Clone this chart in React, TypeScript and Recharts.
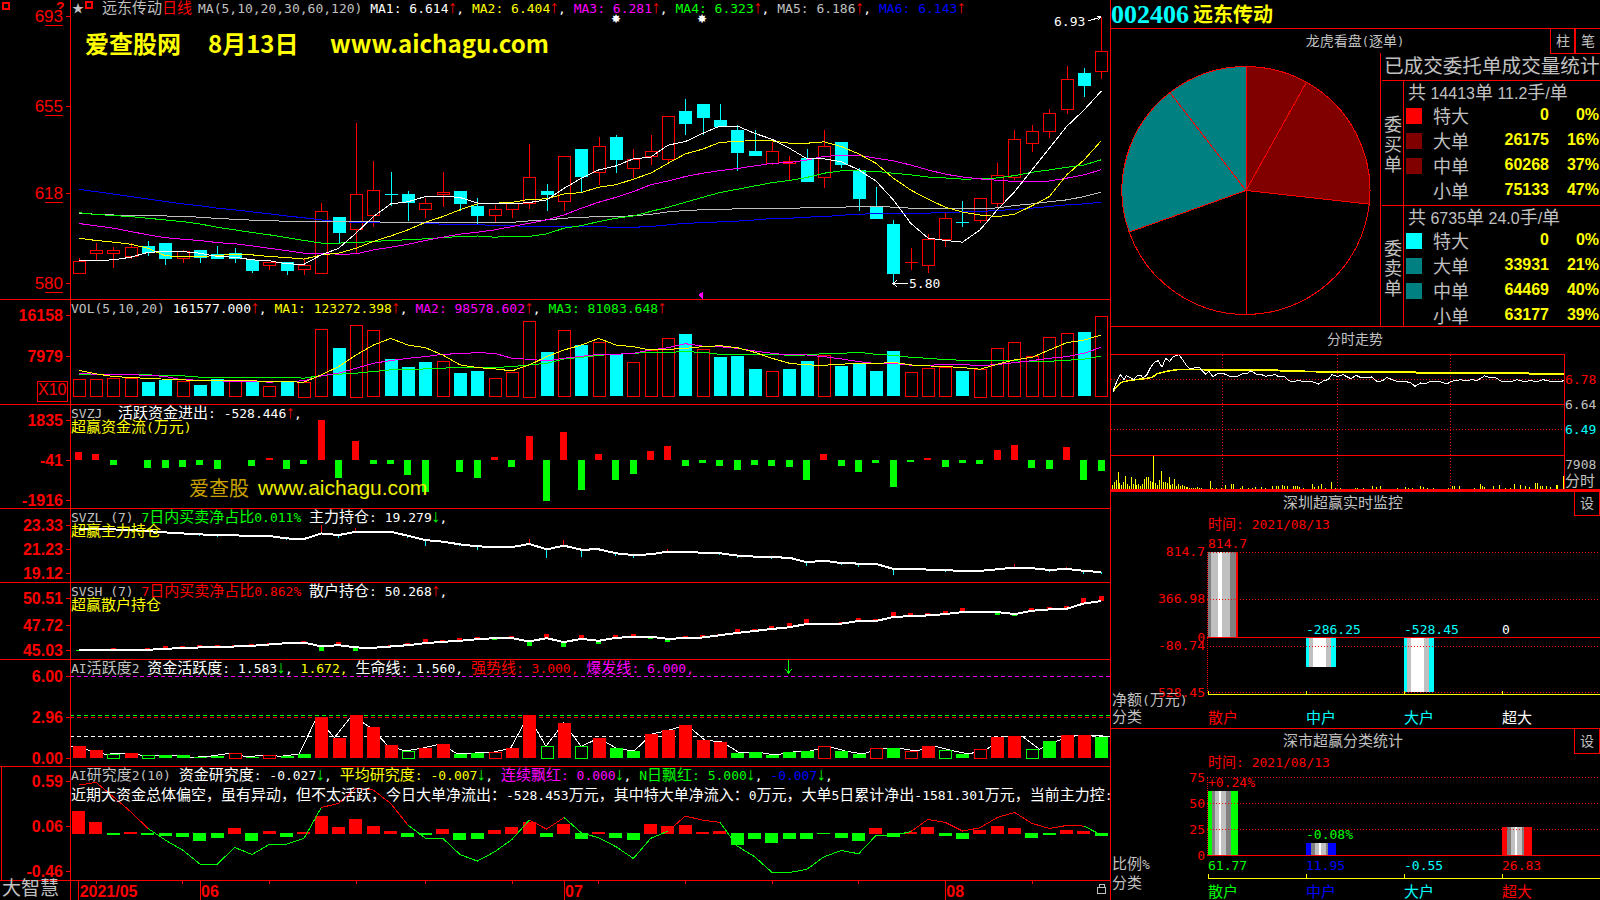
import React from "react";
import { ComposedChart, BarChart, PieChart, Pie, Cell, Bar, Line, XAxis, YAxis, ReferenceLine } from "recharts";

const RED = "#ff0000", CYAN = "#00ffff", GREEN = "#00ff00", YEL = "#ffff00", MAG = "#ff00ff", GRAY = "#c0c0c0", WHITE = "#ffffff", BLUE = "#0000ff";

// ---- daily candles
const candleOpen = [5.845,5.926,5.926,5.917,5.958,5.970,5.905,5.940,5.924,5.927,
  5.899,5.875,5.890,5.859,5.845,6.080,6.029,6.088,6.178,6.177,
  6.116,6.176,6.190,6.126,6.087,6.116,6.138,6.190,6.147,6.368,
  6.270,6.420,6.287,6.337,6.328,6.529,6.560,6.492,6.450,6.359,
  6.308,6.308,6.330,6.249,6.397,6.279,6.123,6.051,5.888,5.876,
  5.986,6.061,6.066,6.139,6.248,6.396,6.447,6.537,6.690,6.698];
const candleClose = [5.896,5.940,5.940,5.955,5.934,5.905,5.938,5.913,5.905,5.905,
  5.858,5.888,5.858,5.876,6.108,6.015,6.177,6.197,6.177,6.145,
  6.138,6.188,6.138,6.087,6.116,6.138,6.248,6.176,6.338,6.256,
  6.380,6.328,6.328,6.359,6.508,6.477,6.506,6.467,6.358,6.345,
  6.359,6.317,6.235,6.380,6.307,6.159,6.078,5.845,5.889,5.986,
  6.078,6.060,6.159,6.258,6.409,6.447,6.520,6.667,6.638,6.786];
const candleHigh = [5.906,5.970,5.955,5.970,5.979,5.970,5.941,5.940,5.958,5.950,
  5.899,5.888,5.890,5.906,6.139,6.080,6.478,6.317,6.270,6.190,
  6.160,6.270,6.190,6.160,6.132,6.146,6.389,6.220,6.338,6.368,
  6.420,6.429,6.368,6.429,6.508,6.581,6.560,6.560,6.469,6.450,
  6.400,6.340,6.369,6.450,6.397,6.287,6.208,6.068,5.950,6.008,
  6.099,6.149,6.159,6.308,6.450,6.469,6.537,6.720,6.710,6.930];
const candleLow = [5.845,5.900,5.866,5.903,5.917,5.875,5.886,5.886,5.905,5.886,
  5.844,5.856,5.835,5.835,5.837,5.970,5.927,6.036,6.125,6.064,
  6.078,6.122,6.108,6.046,6.061,6.078,6.115,6.108,6.108,6.187,
  6.217,6.269,6.246,6.299,6.308,6.426,6.426,6.467,6.277,6.337,
  6.299,6.238,6.235,6.205,6.286,6.108,6.078,5.800,5.856,5.845,
  5.955,6.036,6.054,6.118,6.238,6.356,6.416,6.518,6.587,6.667];
const ma1 = [5.896,5.896,5.899,5.910,5.931,5.934,5.934,5.927,5.913,5.910,
  5.899,5.895,5.882,5.880,5.920,5.948,6.012,6.082,6.136,6.145,
  6.167,6.169,6.163,6.140,6.136,6.136,6.142,6.153,6.202,6.245,
  6.280,6.297,6.327,6.334,6.385,6.400,6.435,6.466,6.466,6.435,
  6.410,6.372,6.328,6.327,6.315,6.280,6.233,6.153,6.054,5.991,
  5.981,5.974,6.026,6.111,6.188,6.280,6.372,6.464,6.534,6.614];
const ma2 = [5.991,5.981,5.974,5.965,5.948,5.916,5.913,5.913,5.917,5.923,
  5.920,5.913,5.909,5.902,5.920,5.927,5.948,5.977,6.000,6.026,
  6.058,6.082,6.111,6.136,6.139,6.142,6.156,6.157,6.178,6.184,
  6.207,6.217,6.241,6.266,6.308,6.348,6.368,6.397,6.400,6.406,
  6.403,6.393,6.393,6.399,6.379,6.348,6.308,6.245,6.195,6.156,
  6.122,6.101,6.089,6.082,6.092,6.128,6.167,6.259,6.322,6.404];
const ma3 = [6.053,6.043,6.033,6.019,6.005,5.993,5.986,5.981,5.972,5.967,
  5.958,5.948,5.938,5.927,5.926,5.923,5.924,5.941,5.952,5.965,
  5.981,5.995,6.008,6.016,6.026,6.040,6.054,6.068,6.089,6.118,
  6.143,6.164,6.188,6.217,6.233,6.252,6.266,6.277,6.286,6.297,
  6.308,6.311,6.322,6.337,6.342,6.341,6.330,6.318,6.301,6.280,
  6.262,6.250,6.242,6.236,6.231,6.231,6.233,6.245,6.259,6.281];
const ma4 = [6.099,6.091,6.087,6.082,6.075,6.068,6.061,6.051,6.037,6.026,
  6.015,6.005,5.993,5.981,5.970,5.970,5.972,5.977,5.981,5.984,
  5.988,5.993,5.998,6.000,5.995,5.998,5.998,6.009,6.033,6.044,
  6.061,6.075,6.085,6.104,6.122,6.143,6.164,6.184,6.198,6.212,
  6.226,6.235,6.248,6.266,6.276,6.276,6.274,6.266,6.259,6.250,
  6.246,6.241,6.242,6.246,6.256,6.270,6.280,6.291,6.301,6.323];
const ma5 = [6.097,6.092,6.089,6.088,6.087,6.085,6.082,6.080,6.074,6.071,
  6.067,6.064,6.063,6.063,6.063,6.061,6.061,6.060,6.058,6.058,
  6.058,6.058,6.058,6.058,6.058,6.058,6.064,6.068,6.075,6.080,
  6.081,6.084,6.085,6.092,6.102,6.108,6.111,6.113,6.115,6.115,
  6.118,6.118,6.119,6.121,6.122,6.125,6.126,6.122,6.118,6.118,
  6.118,6.116,6.116,6.119,6.129,6.136,6.145,6.153,6.167,6.186];
const ma6 = [6.198,6.188,6.178,6.167,6.157,6.146,6.136,6.128,6.118,6.111,
  6.102,6.094,6.085,6.077,6.068,6.061,6.058,6.057,6.057,6.057,
  6.054,6.050,6.048,6.047,6.046,6.043,6.041,6.040,6.040,6.040,
  6.039,6.037,6.037,6.040,6.047,6.054,6.056,6.060,6.063,6.068,
  6.074,6.075,6.080,6.082,6.088,6.092,6.095,6.097,6.097,6.097,
  6.099,6.102,6.104,6.108,6.113,6.118,6.125,6.132,6.136,6.143];

// ---- volume (x10)
const volume = [3458,3458,3658,3658,2926,3325,2993,2328,3458,2993,
  2993,2062,2993,2926,13433,9643,14431,13234,7515,5919,
  6916,7049,4722,5121,3658,4855,15229,8911,13234,10308,
  10840,8446,6850,9310,11638,12502,9443,7914,8113,5520,
  5054,5520,7116,8246,6118,6517,5121,9111,4855,5653,
  5852,5121,5586,9643,10840,8047,11837,12635,12901,16158];
const volumeSide = "rrrrccrccrcrcrrcrrcccrccrrrc".split("").concat("rcrcrrrcrcccrccrccccrrrcrrrrrrcr".split(""));
const volMa1 = [5254,4522,3990,3791,3591,3458,3325,3126,3126,3126,
  3126,2993,2926,2860,4323,5985,8313,10308,11638,10308,
  9776,8313,6318,5786,5520,5121,6318,7980,9310,10308,
  11638,10308,9975,9310,9443,9643,9975,10175,9776,8845,
  7648,6650,6318,6251,6451,6650,6584,6850,6318,6118,
  5985,5786,5453,6451,7315,7847,9310,10773,11305,12327];
const volMa2 = [4589,4456,4323,4323,4256,3990,3325,3259,3126,2993,
  2993,2860,2993,3126,4123,4655,5653,6650,7182,7648,
  7980,8446,8579,8778,8645,7648,7448,7116,7648,8047,
  8446,8446,8645,9310,9776,10574,10108,9975,9643,9111,
  8645,8313,8313,7980,7515,6983,6584,6650,6251,6251,
  6384,6384,6185,6384,6783,7182,7648,7980,8645,9858];
const volMa3 = [4456,4456,4323,4323,4323,4190,4123,3857,3857,3857,
  3857,3857,3857,3658,4190,4456,4655,4988,5320,5320,
  5520,5653,5852,5852,5786,5985,6318,6650,7515,7847,
  8246,8446,8645,8845,8845,8978,8845,8446,8446,8446,
  8446,8246,8313,8579,8645,8845,8446,8246,7847,7648,
  7382,7249,7249,7249,7116,7049,7049,7249,7448,8108];

// ---- capital flow
const capitalFlow = [372,279,-232,-31,-372,-372,-325,-232,-418,-31,
  -279,62,-418,-186,1835,-837,883,-186,-186,-697,
  -1534,-31,-558,-883,140,-325,1116,-1916,1302,-1441,
  279,-976,-651,418,651,-279,-140,-279,-465,-232,
  -279,-325,-930,279,-279,-558,-140,-1302,-93,93,
  -325,-140,-186,465,698,-372,-418,605,-930,-528];

// ---- holdings
const mainHold = [23.015,22.986,22.958,22.90,22.81,22.70,22.61,22.53,22.47,22.44,
  22.41,22.385,22.18,22.13,22.61,22.47,22.76,22.76,22.76,22.41,
  22.04,21.90,21.67,21.50,21.44,21.44,21.70,21.24,21.55,21.21,
  21.24,20.90,20.75,20.81,21.04,21.01,20.95,20.90,20.70,20.61,
  20.55,20.52,20.12,20.27,20.04,20.01,19.98,19.55,19.58,19.49,
  19.44,19.38,19.38,19.52,19.66,19.61,19.46,19.55,19.38,19.28];
const mainHoldDelta = [0,0,0,0,0,0,-.09,-.17,-.2,0,
  -.11,0,-.11,0,.74,-.23,.29,-.09,-.09,-.17,
  -.52,-.06,-.17,-.29,.06,-.09,.4,-.72,.49,-.63,
  .11,-.26,-.29,.11,.23,-.11,-.09,-.14,-.2,-.11,
  -.11,0,-.29,.09,-.11,-.26,0,-.49,-.14,0,
  -.2,-.09,-.14,.09,.29,-.09,-.14,.14,-.29,-.14];
const retailHold = [45.13,45.13,45.13,45.13,45.13,45.24,45.31,45.38,45.45,45.48,
  45.55,45.69,45.83,45.90,45.48,45.62,45.38,45.34,45.48,45.62,
  45.83,45.97,46.08,46.25,46.36,46.36,46.01,46.36,45.94,46.29,
  46.08,46.39,46.50,46.50,46.29,46.36,46.43,46.67,46.91,47.12,
  47.33,47.51,47.86,47.89,47.89,48.17,48.17,48.59,48.69,48.76,
  48.90,49.11,49.11,49.11,48.90,49.25,49.39,49.46,50.02,50.27];
const retailDelta = [-.14,-.14,.14,-.17,.14,.28,.17,.21,.17,.21,
  .21,.21,.17,.21,-.49,.31,-.42,-.1,.21,.28,
  .42,.21,.28,.28,-.17,.21,-.49,.42,-.49,.42,
  -.31,.28,.31,-.21,-.31,.21,.31,.17,.42,.21,
  .31,.42,.49,-.17,.21,.31,.21,.56,.28,.21,
  .31,.42,.14,-.28,-.17,.31,.31,.31,.56,.49];

// ---- activity
const activity = [.90,.61,.29,.39,.24,.22,.22,.07,.17,.36,
  .12,.22,.15,.32,2.99,1.51,3.13,2.28,.97,.53,
  .75,1.04,.32,.39,.44,.75,3.13,.87,2.58,.87,
  1.48,.73,.53,1.77,2.07,2.43,1.34,1.19,.39,.46,
  .24,.46,.53,.87,.53,.32,.73,.75,.53,.90,
  .58,.32,.66,1.56,1.63,.66,1.26,1.70,1.70,1.58];
const activityStyle = "RRgRgGGGGrGrGGRRRRRgRRGGrRRg".split("").concat("RgRGGRRRRRGGGGGrGGrGrRgGrRRgGRRG".split(""));

// ---- research
const researchBars = [.247,.118,-.035,0,-.035,-.043,-.059,-.106,-.071,.047,
  -.106,.012,-.059,0,.188,.059,.153,.071,.012,-.059,
  -.035,.035,-.094,-.082,.024,.059,.118,-.059,.094,-.082,
  0,-.071,-.094,.094,.071,.082,0,.012,-.153,-.082,
  -.129,-.082,-.082,-.020,-.071,-.106,.047,-.059,0,.059,
  -.047,-.082,.024,.071,.047,-.071,-.035,.024,.012,-.040];
const researchLine = [.553,.584,.416,.239,.043,-.094,-.212,-.376,-.376,-.180,
  -.263,-.145,-.141,-.074,.290,.337,.514,.494,.337,.082,
  -.071,-.071,-.263,-.341,-.231,-.086,.141,.035,.172,-.008,
  -.067,-.172,-.310,-.074,.012,.188,.141,.114,-.165,-.290,
  -.474,-.474,-.439,-.290,-.216,-.255,-.039,-.039,.005,.149,
  .114,.012,.051,.172,.231,.102,.043,.078,.071,-.035];

const days = candleOpen.map((_, i) => ({
  i,
  open: candleOpen[i], close: candleClose[i], high: candleHigh[i], low: candleLow[i],
  range: [candleLow[i], candleHigh[i]],
  ma1: ma1[i], ma2: ma2[i], ma3: ma3[i], ma4: ma4[i], ma5: ma5[i], ma6: ma6[i],
  vol: volume[i], side: volumeSide[i], v1: volMa1[i], v2: volMa2[i], v3: volMa3[i],
  flow: capitalFlow[i],
  hold: mainHold[i], holdWick: [Math.min(mainHold[i], mainHold[i] + mainHoldDelta[i]), Math.max(mainHold[i], mainHold[i] + mainHoldDelta[i])], holdUp: mainHoldDelta[i] > 0,
  retail: retailHold[i], retailDot: [Math.min(retailHold[i], retailHold[i] + retailDelta[i]), Math.max(retailHold[i], retailHold[i] + retailDelta[i])], retailUp: retailDelta[i] > 0,
  act: activity[i], actStyle: activityStyle[i],
  res: researchBars[i], resRange: researchBars[i] >= 0 ? [-0.022, researchBars[i]] : [-0.008, researchBars[i]],
  resRed: researchLine[i] >= 0 ? researchLine[i] : null,
  resGreen: researchLine[i] < 0 || (researchLine[i - 1] ?? 0) < 0 || (researchLine[i + 1] ?? 0) < 0 ? researchLine[i] : null,
}));

const priceTicks = [6.93, 6.55, 6.18, 5.80];
const volTicks = [16158, 7979];
const flowTicks = [1835, -41, -1916];
const holdTicks = [23.33, 21.23, 19.12];
const retailTicks = [50.51, 47.72, 45.03];
const actTicks = [6.0, 2.96, 0];
const resTicks = [0.59, 0.06, -0.46];
const monthTicks = [{ i: 0, t: "2021/05" }, { i: 7, t: "06" }, { i: 28, t: "07" }, { i: 50, t: "08" }];
const minorTicks = [1, 6, 11, 16, 20, 25, 30, 35, 40, 45, 55];

// ---- order-book pie
const pieSlices = [
  { name: "委买大单", value: 26175, color: "#800000" },
  { name: "委买中单", value: 60268, color: "#800000" },
  { name: "委买小单", value: 75133, color: "#000000" },
  { name: "委卖小单", value: 63177, color: "#000000" },
  { name: "委卖中单", value: 64469, color: "#008080" },
  { name: "委卖大单", value: 33931, color: "#008080" },
];

// ---- minute trend
const minuteTimes = [1,2,4,5,7,8,10,12,14,16,17,19,21,23,25,27,29,31,33,36,38,40,42,45,47,50,52,54,56,59,61,64,67,69,72,74,77,79,82,84,87,89,92,94,97,99,103,107,110,113,115,117,120,123,127,130,132,135,138,141,144,146,149,152,156,159,161,164,167,169,174,178,180,183,185,188,191,194,198,200,204,207,212,215,219,222,226,229,233,236,240];
const minutePrices = [6.705,6.738,6.786,6.805,6.776,6.801,6.79,6.776,6.799,6.799,6.786,6.805,6.848,6.878,6.886,6.849,6.90,6.882,6.911,6.921,6.892,6.859,6.838,6.848,6.844,6.809,6.824,6.792,6.809,6.815,6.805,6.792,6.795,6.809,6.811,6.828,6.809,6.809,6.795,6.801,6.805,6.792,6.795,6.77,6.766,6.772,6.763,6.763,6.751,6.772,6.776,6.805,6.795,6.805,6.782,6.801,6.79,6.786,6.792,6.766,6.77,6.79,6.776,6.766,6.766,6.757,6.738,6.757,6.753,6.766,6.766,6.751,6.766,6.772,6.776,6.77,6.776,6.772,6.799,6.79,6.786,6.766,6.766,6.776,6.766,6.77,6.766,6.776,6.766,6.763,6.77];
const avgTimes = [1,4,6,11,18,22,24,28,31,35,43,88,89,108,109,161,162,221,222,240];
const avgPrices = [6.709,6.747,6.763,6.774,6.782,6.79,6.809,6.821,6.828,6.834,6.834,6.832,6.828,6.824,6.821,6.821,6.815,6.815,6.809,6.809];
const minVolTimes = [0,1,2,3,4,5,6,7,8,9,10,11,12,13,14,15,16,17,18,19,20,21,22,23,24,25,26,27,28,29,30,31,32,33,34,35,36,37,38,39,40,41,42,43,44,45,46,47,48,53,54,56,59,61,64,65,69,70,73,75,77,80,82,86,88,89,91,92,94,97,98,99,100,102,107,108,110,112,114,117,119,122,130,131,134,139,141,143,152,156,158,160,164,166,168,171,179,181,182,185,193,196,197,198,203,206,209,212,214,217,220,222,225,226,228,229,231,233,236,237,240];
const minVolValues = [2100,900,1700,2100,4000,1300,900,1700,3000,1100,800,2700,1100,2300,900,1100,800,1100,2300,2800,2800,1900,1600,7908,1300,1000,2200,4100,1700,1600,1300,2700,1000,1100,2400,800,1100,600,900,600,500,400,300,300,200,300,400,300,200,1900,300,200,200,940,1090,1090,310,620,310,310,470,470,310,780,620,780,940,620,780,620,780,780,470,310,1090,470,780,1090,310,1720,310,310,160,160,160,620,470,780,310,470,310,310,780,470,310,310,310,620,620,780,310,1090,620,470,780,940,310,310,1090,940,620,470,1400,1400,780,780,620,470,940,940,2960];

// ---- monitor bars
const monitorCats = ["散户", "中户", "大户", "超大"];
const monitorValues = [814.7, -286.25, -528.45, 0];
const monitorLabels = ["814.7", "-286.25", "-528.45", "0"];
const monitorColors = [RED, CYAN, CYAN, WHITE];
const monitorTicks = [814.7, 366.98, 0, -80.74, -528.45];
const statCats = ["散户", "中户", "大户", "超大"];
const statValues = [61.77, 11.95, -0.55, 26.83];
const statChange = ["+0.24%", "-0.08%", "", ""];
const statChangeColors = [RED, GREEN, GREEN, GREEN];
const statColors = [GREEN, BLUE, CYAN, RED];
const statTicks = [75, 50, 25, 0];

const MONO = "'DejaVu Sans Mono', monospace";
const CJK = "'Noto Sans CJK SC', sans-serif";
const NUM = "'Liberation Sans', sans-serif";

type Seg = [string, string];
const CJK_SPLIT = /([\u3000-\u303f\u4e00-\u9fff\uff00-\uffef]+|[\u2191\u2193])/;
function Txt({ x, y, segs, size = 15, lat = 13, latFont = MONO, weight = 400, right = false, center = false, maxX }: any) {
  const st: any = { position: "absolute", top: y - 8, height: 14, lineHeight: "14px", whiteSpace: "pre" };
  if (right) st.right = 1600 - x; else if (center) { st.left = x; st.transform = "translateX(-50%)"; } else st.left = x;
  if (maxX) { st.width = maxX - x; st.height = 20; st.top = y - 11; st.lineHeight = "20px"; st.overflow = "hidden"; }
  return (
    <div style={st}>
      {segs.map(([t, c]: Seg, k: number) =>
        t.split(CJK_SPLIT).filter(Boolean).map((run, j) => {
          if (run === "\u2191" || run === "\u2193") {
            return <span key={k + "-" + j} style={{ display: "inline-block", width: 7.83, textAlign: "center", color: c, fontFamily: NUM, fontSize: 18, lineHeight: "14px", overflow: "visible" }}><span style={{ marginLeft: -4, marginRight: -4 }}>{run}</span></span>;
          }
          const isC = /[\u3000-\u303f\u4e00-\u9fff\uff00-\uffef]/.test(run);
          return (
            <span key={k + "-" + j} style={{ color: c, fontFamily: isC ? CJK : latFont, fontSize: isC ? size : lat, fontWeight: weight }}>{run}</span>
          );
        })
      )}
    </div>
  );
}
const HL = ({ x1, x2, y, c = RED, h = 1, dot = false }: any) => (
  <div style={{ position: "absolute", left: x1, top: y, width: x2 - x1, height: dot ? 0 : h, background: dot ? "none" : c, borderTop: dot ? `1px dotted ${c}` : undefined }} />
);
const VL = ({ x, y1, y2, c = RED, dot = false }: any) => (
  <div style={{ position: "absolute", left: x, top: y1, height: y2 - y1, width: dot ? 0 : 1, background: dot ? "none" : c, borderLeft: dot ? `1px dotted ${c}` : undefined }} />
);
const Box = ({ x, y, w, h, c = RED }: any) => (
  <div style={{ position: "absolute", left: x, top: y, width: w, height: h, border: `1px solid ${c}`, boxSizing: "border-box" }} />
);

const Panel = ({ top, height, children }: any) => (
  <div style={{ position: "absolute", left: 0, top, width: 1110, height }}>{children}</div>
);

const makeTick = (fmt: (v: number) => string, opts: any = {}) => (p: any) => {
  const { y, payload } = p;
  return (
    <g>
      <line x1={66} x2={70} y1={y} y2={y} stroke={RED} />
      <text x={63} y={y} textAnchor="end" dominantBaseline="central" fill={RED} fontFamily={NUM} fontSize={opts.size ?? 16} fontWeight={opts.weight ?? 700} style={{ shapeRendering: "auto" }}>{fmt(payload.value)}</text>
      {opts.underline ? <line x1={45} x2={63} y1={y + 9} y2={y + 9} stroke={RED} /> : null}
    </g>
  );
};

const yAxisProps = { width: 70, axisLine: false, tickLine: false, interval: 0 as any, allowDataOverflow: true, type: "number" as const };

const Candle = (p: any) => {
  const { x, width, y, height, payload: d } = p;
  const k = height / (d.high - d.low);
  const yOf = (v: number) => y + (d.high - v) * k;
  const up = d.close >= d.open;
  const c = up ? RED : CYAN;
  const cx = Math.round(x + width / 2) + 0.5;
  const t = Math.round(yOf(Math.max(d.open, d.close))) + 0.5;
  const b = Math.round(yOf(Math.min(d.open, d.close))) + 0.5;
  const doji = b - t < 2;
  return (
    <g>
      <line x1={cx} x2={cx} y1={yOf(d.high)} y2={t} stroke={c} />
      <line x1={cx} x2={cx} y1={b} y2={yOf(d.low)} stroke={c} />
      {doji ? <line x1={cx - 6.5} x2={cx + 6.5} y1={t} y2={t} stroke={c} /> :
        up ? <rect x={cx - 6} y={t} width={12} height={b - t} fill="#000" stroke={c} /> :
          <rect x={cx - 6.5} y={t - 0.5} width={13} height={b - t + 1} fill={c} />}
    </g>
  );
};
const VolBar = (p: any) => {
  const { x, width, y, height, payload: d } = p;
  const cx = Math.round(x + width / 2) + 0.5;
  return d.side === "r"
    ? <rect x={cx - 6} y={Math.round(y) + 0.5} width={12} height={height} fill="#000" stroke={RED} />
    : <rect x={cx - 6.5} y={y} width={13} height={height} fill={CYAN} />;
};
const ActBar = (p: any) => {
  const { x, width, y, height, payload: d } = p;
  const cx = Math.round(x + width / 2) + 0.5;
  const c = d.actStyle.toLowerCase() === "r" ? RED : GREEN;
  const hollow = d.actStyle === "r" || d.actStyle === "g";
  return hollow
    ? <rect x={cx - 6} y={Math.round(y) + 0.5} width={12} height={height} fill="#000" stroke={c} />
    : <rect x={cx - 6.5} y={y} width={13} height={height} fill={c} />;
};

const MonthTick = (p: any) => {
  const { x, payload } = p;
  const m = monthTicks.find((t) => t.i === payload.value);
  return m ? (
    <g>
      <line x1={x} x2={x} y1={114} y2={134} stroke={RED} />
      <text x={x + 1} y={125} dominantBaseline="central" fill={RED} fontFamily={NUM} fontSize={16} fontWeight={700}>{m.t}</text>
    </g>
  ) : <line x1={x} x2={x} y1={114} y2={118} stroke={RED} />;
};

const stripes = (x: number, y: number, h: number, list: [number, string][]) => {
  let cur = x;
  return list.map(([w, c], i) => {
    const el = <rect key={i} x={cur} y={y} width={w * 30} height={h} fill={c} />;
    cur += w * 30;
    return el;
  });
};
const DG = "#808080", LG = "#c0c0c0", WH = "#ffffff";
const MonitorBar = (p: any) => {
  const { x, width, y, height, index } = p;
  const top = Math.min(y, y + height), h = Math.abs(height);
  const l = x + width / 2 - 15;
  const list: [number, string][] = index === 0
    ? [[.09, DG], [.23, LG], [.13, WH], [.27, LG], [.2, DG], [.08, RED]]
    : [[.09, CYAN], [.155, LG], [.42, WH], [.17, LG], [.165, CYAN]];
  return (
    <g>
      {h > 0 ? stripes(l, top, h, list) : null}
      <text x={l} y={top - 8} dominantBaseline="central" fill={monitorColors[index]} fontFamily={MONO} fontSize={13}>{monitorLabels[index]}</text>
    </g>
  );
};
const StatBar = (p: any) => {
  const { x, width, y, height, index } = p;
  if (statValues[index] < 0) return null;
  const l = x + width / 2 - 15;
  const c = statColors[index];
  const list: [number, string][] = index === 1
    ? [[.18, c], [.11, DG], [.14, LG], [.06, WH], [.17, LG], [.08, DG], [.26, c]]
    : index === 3 ? [[.18, c], [.11, DG], [.14, LG], [.06, WH], [.17, LG], [.06, DG], [.28, c]]
      : [[.13, c], [.11, DG], [.14, LG], [.06, WH], [.17, LG], [.14, DG], [.25, c]];
  return (
    <g>
      {stripes(l, y, height, list)}
      <text x={l} y={y - 8} dominantBaseline="central" fill={statChangeColors[index]} fontFamily={MONO} fontSize={13}>{statChange[index]}</text>
    </g>
  );
};
const shiftedLine = (color: string, dash?: string) => (p: any) => (
  <line x1={p.x1 + 33} x2={p.x2 + 34} y1={Math.round(p.y1) + 0.5} y2={Math.round(p.y2) + 0.5} stroke={color} strokeDasharray={dash} />
);
const valueTick = (right: number) => (p: any) => (
  <text x={right} y={p.y} textAnchor="end" dominantBaseline="central" fill={RED} fontFamily={MONO} fontSize={13}>{p.payload.value}</text>
);
const monitorCatTick = (p: any) => {
  const { x, payload, index } = p;
  return (
    <g>
      <line x1={x - 15} x2={x - 15} y1={165.5} y2={169} stroke={YEL} />
      <text x={x - 15} y={191} dominantBaseline="central" fill={monitorColors[index]} fontFamily={CJK} fontSize={15}>{payload.value}</text>
    </g>
  );
};
const statCatTick = (p: any) => {
  const { x, payload, index } = p;
  return (
    <g>
      <text x={x - 15} y={100} dominantBaseline="central" fill={statColors[index]} fontFamily={MONO} fontSize={13}>{statValues[index]}</text>
      <line x1={x - 15} x2={x - 15} y1={109} y2={113} stroke={YEL} />
      <text x={x - 15} y={125} dominantBaseline="central" fill={statColors[index]} fontFamily={CJK} fontSize={15}>{payload.value}</text>
    </g>
  );
};

const mainRow: Seg[] = [["MA(5,10,20,30,60,120) ", GRAY], ["MA1: 6.614", WHITE], ["↑", RED], [", ", WHITE], ["MA2: 6.404", YEL], ["↑", RED], [", ", WHITE], ["MA3: 6.281", MAG], ["↑", RED], [", ", WHITE], ["MA4: 6.323", GREEN], ["↑", RED], [", ", WHITE], ["MA5: 6.186", GRAY], ["↑", RED], [", ", WHITE], ["MA6: 6.143", BLUE], ["↑", RED]];
const volRow: Seg[] = [["VOL(5,10,20) ", GRAY], ["161577.000", WHITE], ["↑", RED], [", ", WHITE], ["MA1: 123272.398", YEL], ["↑", RED], [", ", WHITE], ["MA2: 98578.602", MAG], ["↑", RED], [", ", WHITE], ["MA3: 81083.648", GREEN], ["↑", RED]];
const flowRow: Seg[] = [["SVZJ  ", GRAY], ["活跃资金进出: -528.446", WHITE], ["↑", RED], [",", WHITE]];
const holdRow: Seg[] = [["SVZL (7) ", GRAY], ["7日内买卖净占比0.011%", GREEN], [" 主力持仓: 19.279", WHITE], ["↓", GREEN], [",", WHITE]];
const retailRow: Seg[] = [["SVSH (7) ", GRAY], ["7日内买卖净占比0.862%", RED], [" 散户持仓: 50.268", WHITE], ["↑", RED], [",", WHITE]];
const actRow: Seg[] = [["AI活跃度2 ", GRAY], ["资金活跃度: 1.583", WHITE], ["↓", GREEN], [",", WHITE], [" 1.672,", YEL], [" 生命线: 1.560,", WHITE], [" 强势线: 3.000,", RED], [" 爆发线: 6.000,", MAG]];
const resRow: Seg[] = [["AI研究度2(10) ", GRAY], ["资金研究度: -0.027", WHITE], ["↓", GREEN], [", ", WHITE], ["平均研究度: -0.007", YEL], ["↓", GREEN], [", ", WHITE], ["连续飘红: 0.000", MAG], ["↓", GREEN], [", ", WHITE], ["N日飘红: 5.000", GREEN], ["↓", GREEN], [", ", WHITE], ["-0.007", BLUE], ["↓", GREEN], [",", WHITE]];
const resNote = "近期大资金总体偏空，虽有异动，但不太活跃，今日大单净流出：-528.453万元，其中特大单净流入：0万元，大单5日累计净出-1581.301万元，当前主力控:";

const buyRows = [["特大", "0", "0%", RED], ["大单", "26175", "16%", "#800000"], ["中单", "60268", "37%", "#800000"], ["小单", "75133", "47%", "#000000"]];
const sellRows = [["特大", "0", "0%", CYAN], ["大单", "33931", "21%", "#008080"], ["中单", "64469", "40%", "#008080"], ["小单", "63177", "39%", "#000000"]];

export default function App() {
  return (
    <div style={{ position: "fixed", left: 0, top: 0, width: 1600, height: 900, background: "#000", overflow: "hidden", shapeRendering: "crispEdges" } as any}>
      {/* Price */}
      <Panel top={0} height={299}>
        <ComposedChart width={1110} height={299} data={days} margin={{ top: 0, right: 0, bottom: 0, left: 0 }}>
          <XAxis dataKey="i" hide />
          <YAxis {...yAxisProps} domain={[5.733, 7.0]} ticks={priceTicks} tick={makeTick((v) => String(Math.round(v * 100)), { underline: true, weight: 400, size: 17 })} />
          <Bar dataKey="range" barSize={13} shape={Candle} isAnimationActive={false} />
          <Line dataKey="ma6" stroke={BLUE} dot={false} isAnimationActive={false} strokeWidth={1} />
          <Line dataKey="ma5" stroke={GRAY} dot={false} isAnimationActive={false} strokeWidth={1} />
          <Line dataKey="ma4" stroke={GREEN} dot={false} isAnimationActive={false} strokeWidth={1} />
          <Line dataKey="ma3" stroke={MAG} dot={false} isAnimationActive={false} strokeWidth={1} />
          <Line dataKey="ma2" stroke={YEL} dot={false} isAnimationActive={false} strokeWidth={1} />
          <Line dataKey="ma1" stroke={WHITE} dot={false} isAnimationActive={false} strokeWidth={1} />
        </ComposedChart>
      </Panel>
      {/* Volume */}
      <Panel top={300} height={104}>
        <ComposedChart width={1110} height={104} data={days} margin={{ top: 0, right: 0, bottom: 0, left: 0 }}>
          <XAxis dataKey="i" hide />
          <YAxis {...yAxisProps} domain={[-1530, 19350]} ticks={volTicks} tick={makeTick((v) => String(v))} />
          <Bar dataKey="vol" barSize={13} shape={VolBar} isAnimationActive={false} />
          <Line dataKey="v3" stroke={GREEN} dot={false} isAnimationActive={false} strokeWidth={1} />
          <Line dataKey="v2" stroke={MAG} dot={false} isAnimationActive={false} strokeWidth={1} />
          <Line dataKey="v1" stroke={YEL} dot={false} isAnimationActive={false} strokeWidth={1} />
        </ComposedChart>
      </Panel>
      {/* Capital flow */}
      <Panel top={405} height={103}>
        <ComposedChart width={1110} height={103} data={days} margin={{ top: 0, right: 0, bottom: 0, left: 0 }}>
          <XAxis dataKey="i" hide />
          <YAxis {...yAxisProps} domain={[-2257, 2540]} ticks={flowTicks} tick={makeTick((v) => String(v))} />
          <Bar dataKey="flow" barSize={7} isAnimationActive={false}>
            {days.map((d) => <Cell key={d.i} fill={d.flow >= 0 ? RED : GREEN} />)}
          </Bar>
        </ComposedChart>
      </Panel>
      {/* Main holding */}
      <Panel top={509} height={73}>
        <ComposedChart width={1110} height={73} data={days} margin={{ top: 0, right: 0, bottom: 0, left: 0 }}>
          <XAxis dataKey="i" hide />
          <YAxis {...yAxisProps} domain={[18.42, 24.72]} ticks={holdTicks} tick={makeTick((v) => v.toFixed(2))} />
          <Bar dataKey="holdWick" barSize={1} isAnimationActive={false}>
            {days.map((d) => <Cell key={d.i} fill={d.holdUp ? RED : CYAN} />)}
          </Bar>
          <Line dataKey="hold" stroke={WHITE} dot={false} isAnimationActive={false} strokeWidth={2} />
        </ComposedChart>
      </Panel>
      {/* Retail holding */}
      <Panel top={583} height={76}>
        <ComposedChart width={1110} height={76} data={days} margin={{ top: 0, right: 0, bottom: 0, left: 0 }}>
          <XAxis dataKey="i" hide />
          <YAxis {...yAxisProps} domain={[44.16, 52.18]} ticks={retailTicks} tick={makeTick((v) => v.toFixed(2))} />
          <Bar dataKey="retailDot" barSize={5} isAnimationActive={false}>
            {days.map((d) => <Cell key={d.i} fill={d.retailUp ? RED : GREEN} />)}
          </Bar>
          <Line dataKey="retail" stroke={WHITE} dot={false} isAnimationActive={false} strokeWidth={2} />
        </ComposedChart>
      </Panel>
      {/* Activity: the line and levels lie under the bars */}
      <Panel top={660} height={106}>
        <ComposedChart width={1110} height={106} data={days} margin={{ top: 0, right: 0, bottom: 0, left: 0 }}>
          <XAxis dataKey="i" hide />
          <YAxis {...yAxisProps} domain={[-0.56, 7.18]} ticks={actTicks} tick={makeTick((v) => v.toFixed(2))} />
          <ReferenceLine y={6} stroke={MAG} strokeDasharray="4 3" />
          <ReferenceLine y={3.13} stroke={GREEN} strokeDasharray="4 3" />
          <ReferenceLine y={3.0} stroke={RED} strokeDasharray="4 3" />
          <ReferenceLine y={1.56} stroke={WHITE} strokeDasharray="4 3" />
          <Line dataKey="act" stroke={WHITE} dot={false} isAnimationActive={false} strokeWidth={1} />
        </ComposedChart>
      </Panel>
      <Panel top={660} height={106}>
        <ComposedChart width={1110} height={106} data={days} margin={{ top: 0, right: 0, bottom: 0, left: 0 }}>
          <XAxis dataKey="i" hide />
          <YAxis {...yAxisProps} domain={[-0.56, 7.18]} ticks={[]} tick={false} />
          <Bar dataKey="act" barSize={13} shape={ActBar} isAnimationActive={false} />
        </ComposedChart>
      </Panel>
      {/* Research */}
      <Panel top={766} height={134}>
        <ComposedChart width={1110} height={134} data={days} margin={{ top: 0, right: 0, bottom: 0, left: 0 }}>
          <XAxis dataKey="i" height={20} axisLine={false} tickLine={false} interval={0} ticks={[...monthTicks.map((m) => m.i), ...minorTicks].sort((a, b) => a - b)} tick={MonthTick} />
          <YAxis {...yAxisProps} domain={[-0.563, 0.777]} ticks={resTicks} tick={makeTick((v) => v.toFixed(2))} />
          <Bar dataKey="resRange" barSize={13} isAnimationActive={false}>
            {days.map((d) => <Cell key={d.i} fill={d.res >= 0 ? RED : GREEN} />)}
          </Bar>
          <Line dataKey="resRed" stroke={RED} dot={false} isAnimationActive={false} strokeWidth={1} />
          <Line dataKey="resGreen" stroke={GREEN} dot={false} isAnimationActive={false} strokeWidth={1} />
        </ComposedChart>
      </Panel>

      {/* frame lines */}
      {[299, 404, 508, 582, 659, 766, 880].map((y) => <HL key={y} x1={0} x2={1110} y={y} />)}
      <VL x={70} y1={0} y2={900} />
      <VL x={1110} y1={0} y2={900} />
      <Box x={1} y={766} w={70} h={115} />
      <Box x={37} y={381} w={31} h={21} />

      {/* Left panel text */}
      <Txt x={102} y={8} segs={[["远东传动", GRAY], ["日线", RED]]} size={15} />
      <Txt x={198} y={8} segs={mainRow} />
      <Txt x={71} y={308} segs={volRow} />
      <Txt x={71} y={413} segs={flowRow} />
      <Txt x={71} y={427} segs={[["超赢资金流(万元)", YEL]]} />
      <Txt x={71} y={517} segs={holdRow} />
      <Txt x={71} y={531} segs={[["超赢主力持仓", YEL]]} />
      <Txt x={71} y={591} segs={retailRow} />
      <Txt x={71} y={605} segs={[["超赢散户持仓", YEL]]} />
      <Txt x={71} y={668} segs={actRow} />
      <Txt x={71} y={775} segs={resRow} />
      <Txt x={71} y={795} segs={[[resNote, WHITE]]} maxX={1110} />
      <Txt x={2} y={888} segs={[["大智慧", GRAY]]} size={19} />
      <Txt x={38} y={391} segs={[["X10", RED]]} lat={16} latFont={NUM} />

      <Txt x={85} y={44} segs={[["爱查股网", YEL]]} size={24} weight={700} />
      <Txt x={208} y={44} segs={[["8月13日", YEL]]} size={24} lat={24} latFont={CJK} weight={700} />
      <Txt x={330} y={44} segs={[["www.aichagu.com", YEL]]} lat={24} latFont={CJK} weight={700} />
      <Txt x={189} y={489} segs={[["爱查股", "#c8a000"]]} size={20} />
      <Txt x={258} y={489} segs={[["www.aichagu.com", "#eeee00"]]} lat={21} latFont={NUM} />

      <Txt x={1054} y={22} segs={[["6.93", WHITE]]} />
      <Txt x={909} y={284} segs={[["5.80", WHITE]]} />
      <svg width={1600} height={900} style={{ position: "absolute", left: 0, top: 0, pointerEvents: "none" }}>
        <line x1={1088} y1={21} x2={1101} y2={17} stroke={WHITE} />
        <path d="M1097 16 L1101 17 L1098 20" fill="none" stroke={WHITE} />
        <line x1={893} y1={283.5} x2={908} y2={283.5} stroke={WHITE} />
        <path d="M897 280 L893 283.5 L897 287" fill="none" stroke={WHITE} />
        <line x1={788.5} y1={660} x2={788.5} y2={673} stroke={GREEN} />
        <path d="M785 669 L788.5 673 L792 669" fill="none" stroke={GREEN} />
        <rect x={3} y={3} width={6} height={6} fill="none" stroke={RED} strokeWidth={2} />
        <rect x={86} y={2} width={6} height={6} fill="none" stroke={RED} strokeWidth={2} />
        <text x={56} y={12} fill={RED} fontFamily={NUM} fontSize={14} fontWeight={700}>?</text>
        <text x={72} y={13} fill={GRAY} fontFamily={CJK} fontSize={12}>★</text>
        <text x={611} y={23} fill={WHITE} fontFamily={CJK} fontSize={12}>✸</text>
        <text x={697} y={23} fill={WHITE} fontFamily={CJK} fontSize={12}>✸</text>
        <path d="M698 295 L703 292 L703 299 Z" fill={MAG} />
        <rect x={1097.5} y={887.5} width={8} height={6} fill="none" stroke={GRAY} />
        <path d="M1099 887 V884.5 H1104 V887" fill="none" stroke={GRAY} />
      </svg>

      {/* Right column */}
      <HL x1={1110} x2={1600} y={28} />
      <HL x1={1110} x2={1600} y={326} />
      <HL x1={1110} x2={1600} y={491} />
      <HL x1={1110} x2={1600} y={728} />
      <Txt x={1111} y={16} segs={[["002406", CYAN]]} lat={26} latFont="'Liberation Serif', serif" weight={700} />
      <Txt x={1193} y={15} segs={[["远东传动", YEL]]} size={20} weight={700} />
      <Txt x={1355} y={41} center segs={[["龙虎看盘(逐单)", GRAY]]} size={14} lat={12} />
      <Box x={1550} y={28} w={25} h={26} />
      <Box x={1575} y={28} w={26} h={26} />
      <Txt x={1556} y={41} segs={[["柱", GRAY]]} size={14} />
      <Txt x={1581} y={41} segs={[["笔", GRAY]]} size={14} />

      <div style={{ position: "absolute", left: 1110, top: 55 }}>
        <PieChart width={272} height={272} margin={{ top: 0, right: 0, bottom: 0, left: 0 }}>
          <Pie data={pieSlices} dataKey="value" nameKey="name" cx={136} cy={135.5} outerRadius={124} innerRadius={0} startAngle={90} endAngle={-270} stroke={RED} strokeWidth={1} isAnimationActive={false}>
            {pieSlices.map((s) => <Cell key={s.name} fill={s.color} stroke={RED} />)}
          </Pie>
        </PieChart>
      </div>

      <VL x={1380} y1={53} y2={326} />
      <VL x={1403} y1={80} y2={326} />
      <HL x1={1382} x2={1600} y={80} />
      <HL x1={1382} x2={1600} y={205} />
      <Txt x={1384} y={66} segs={[["已成交委托单成交量统计", GRAY]]} size={19.6} />
      <Txt x={1408} y={92} segs={[["共 14413单 11.2手/单", GRAY]]} size={18} lat={16} latFont={NUM} />
      <Txt x={1408} y={217} segs={[["共 6735单 24.0手/单", GRAY]]} size={18} lat={16} latFont={NUM} />
      {["委", "买", "单"].map((t, i) => <Txt key={t} x={1384} y={124 + i * 20} segs={[[t, GRAY]]} size={18} />)}
      {["委", "卖", "单"].map((t, i) => <Txt key={t} x={1384} y={248 + i * 20} segs={[[t, GRAY]]} size={18} />)}
      {[{ rows: buyRows, y0: 116 }, { rows: sellRows, y0: 241 }].map(({ rows, y0 }) =>
        rows.map((r, i) => {
          const y = y0 + i * 25;
          return (
            <React.Fragment key={y}>
              <div style={{ position: "absolute", left: 1406, top: y - 8, width: 16, height: 16, background: r[3] }} />
              <Txt x={1433} y={y} segs={[[r[0], GRAY]]} size={18} />
              <Txt x={1549} y={y} right segs={[[r[1], YEL]]} lat={16} latFont={NUM} weight={700} />
              <Txt x={1599} y={y} right segs={[[r[2], YEL]]} lat={16} latFont={NUM} weight={700} />
            </React.Fragment>
          );
        })
      )}

      {/* Minute trend */}
      <Txt x={1355} y={339} center segs={[["分时走势", GRAY]]} size={14} />
      <div style={{ position: "absolute", left: 1111, top: 354 }}>
        <ComposedChart width={453} height={101} margin={{ top: 0, right: 0, bottom: 0, left: 0 }}>
          <XAxis type="number" dataKey="m" domain={[0, 240]} hide />
          <YAxis type="number" domain={[6.34, 6.925]} hide />
          <ReferenceLine y={6.78} stroke={RED} strokeDasharray="1 2" />
          <ReferenceLine y={6.635} stroke={RED} />
          <ReferenceLine y={6.49} stroke={RED} strokeDasharray="1 2" />
          {[59, 120, 180].map((m) => <ReferenceLine key={m} x={m} stroke={RED} strokeDasharray="1 2" />)}
          <Line data={avgTimes.map((m, i) => ({ m, p: avgPrices[i] }))} dataKey="p" stroke={YEL} dot={false} strokeWidth={1.5} isAnimationActive={false} />
          <Line data={minuteTimes.map((m, i) => ({ m, p: minutePrices[i] }))} dataKey="p" stroke={WHITE} dot={false} strokeWidth={1} isAnimationActive={false} />
        </ComposedChart>
      </div>
      <div style={{ position: "absolute", left: 1111, top: 455 }}>
        <BarChart width={453} height={34} data={minVolTimes.map((m, i) => ({ m, v: minVolValues[i] }))} margin={{ top: 0, right: 0, bottom: 0, left: 0 }}>
          <XAxis type="number" dataKey="m" domain={[0, 240]} hide />
          <YAxis type="number" domain={[0, 7908]} hide />
          {[59, 120, 180].map((m) => <ReferenceLine key={m} x={m} stroke={RED} strokeDasharray="1 2" />)}
          <Bar dataKey="v" fill={YEL} barSize={1} isAnimationActive={false} />
        </BarChart>
      </div>
      <HL x1={1110} x2={1564} y={354} />
      <HL x1={1110} x2={1564} y={455} />
      <VL x={1564} y1={354} y2={489} />
      <HL x1={1110} x2={1600} y={489} h={2} />
      <Txt x={1565} y={380} segs={[["6.78", RED]]} />
      <Txt x={1565} y={405} segs={[["6.64", GRAY]]} />
      <Txt x={1565} y={430} segs={[["6.49", CYAN]]} />
      <Txt x={1565} y={465} segs={[["7908", GRAY]]} />
      <Txt x={1565} y={481} segs={[["分时", GRAY]]} size={15} />

      {/* Monitor */}
      <Txt x={1343} y={503} center segs={[["深圳超赢实时监控", GRAY]]} size={15} />
      <Box x={1574} y={491} w={26} h={25} />
      <Txt x={1580} y={503} segs={[["设", GRAY]]} size={14} />
      <Txt x={1208} y={524} segs={[["时间: 2021/08/13", RED]]} size={14} />
      <div style={{ position: "absolute", left: 1110, top: 525 }}>
        <BarChart width={490} height={203} data={monitorCats.map((c, i) => ({ c, v: monitorValues[i] }))} margin={{ top: 0, right: 34, bottom: 0, left: 0 }}>
          <XAxis dataKey="c" height={34} axisLine={false} tickLine={false} interval={0} tick={monitorCatTick} />
          <YAxis width={64} type="number" domain={[-544, 1072.6]} ticks={monitorTicks} interval={0} axisLine={false} tickLine={false} tick={valueTick(95)} allowDataOverflow />
          <ReferenceLine y={814.7} shape={shiftedLine(RED, "1 2")} />
          <ReferenceLine y={366.98} shape={shiftedLine(RED, "1 2")} />
          <ReferenceLine y={-80.74} shape={shiftedLine(RED, "1 2")} />
          <ReferenceLine y={-528.45} shape={shiftedLine(RED, "1 2")} />
          <ReferenceLine y={0} shape={shiftedLine(RED)} />
          <Bar dataKey="v" barSize={30} shape={MonitorBar} isAnimationActive={false} />
        </BarChart>
      </div>
      <VL x={1207} y1={552} y2={693} dot />
      <HL x1={1208} x2={1600} y={694} c={YEL} />
      <Txt x={1112} y={700} segs={[["净额(万元)", GRAY]]} size={15} />
      <Txt x={1112} y={717} segs={[["分类", GRAY]]} size={15} />

      {/* Stats */}
      <Txt x={1343} y={741} center segs={[["深市超赢分类统计", GRAY]]} size={15} />
      <Box x={1574} y={728} w={26} h={26} />
      <Txt x={1580} y={741} segs={[["设", GRAY]]} size={14} />
      <Txt x={1208} y={762} segs={[["时间: 2021/08/13", RED]]} size={14} />
      <div style={{ position: "absolute", left: 1110, top: 765 }}>
        <BarChart width={490} height={135} data={statCats.map((c, i) => ({ c, v: statValues[i] }))} margin={{ top: 0, right: 34, bottom: 0, left: 0 }}>
          <XAxis dataKey="c" height={44.7} axisLine={false} tickLine={false} interval={0} tick={statCatTick} />
          <YAxis width={64} type="number" domain={[0, 86.5]} ticks={statTicks} interval={0} axisLine={false} tickLine={false} tick={valueTick(95)} allowDataOverflow />
          <ReferenceLine y={75} shape={shiftedLine(RED, "1 2")} />
          <ReferenceLine y={50} shape={shiftedLine(RED, "1 2")} />
          <ReferenceLine y={25} shape={shiftedLine(RED, "1 2")} />
          <Bar dataKey="v" barSize={30} shape={StatBar} isAnimationActive={false} />
        </BarChart>
      </div>
      <HL x1={1207} x2={1600} y={855} />
      <VL x={1207} y1={777} y2={855} dot />
      <HL x1={1208} x2={1600} y={878} c={YEL} />
      <Txt x={1112} y={864} segs={[["比例%", GRAY]]} size={15} />
      <Txt x={1112} y={883} segs={[["分类", GRAY]]} size={15} />
    </div>
  );
}
